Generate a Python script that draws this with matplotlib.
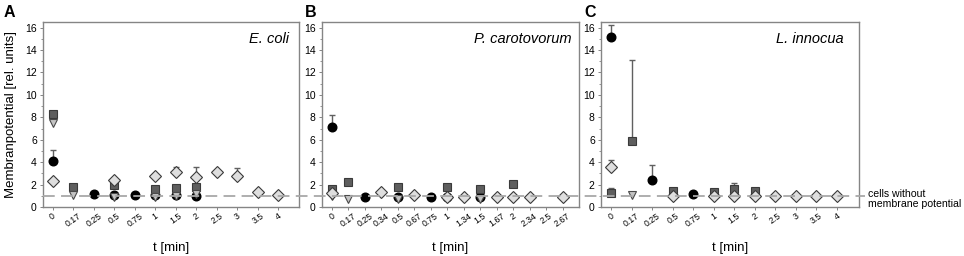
import numpy as np
import matplotlib.pyplot as plt
from matplotlib.lines import Line2D
from matplotlib.ticker import MultipleLocator
from matplotlib.transforms import blended_transform_factory

plt.rcParams['font.family'] = ['Liberation Sans', 'DejaVu Sans']

nan = np.nan

# ---- data ----
cats_a = ['0', '0.17', '0.25', '0.5', '0.75', '1', '1.5', '2', '2.5', '3', '3.5', '4']
circ_a = [4.1, nan, 1.2, 1.1, 1.1, 1.1, 1.05, 1.0, nan, nan, nan, nan]
circ_a_err = [0.95, 0, 0, 0, 0, 0, 0, 0, 0, 0, 0, 0]
sq_a = [8.3, 1.8, nan, 2.0, nan, 1.6, 1.7, 1.75, nan, nan, nan, nan]
sq_a_err = [0] * 12
tri_a = [7.5, 1.05, nan, 0.9, nan, 0.9, 1.0, 1.2, nan, nan, nan, nan]
dia_a = [2.3, nan, nan, 2.4, nan, 2.8, 3.1, 2.7, 3.1, 2.8, 1.3, 1.1]
dia_a_err = [0, 0, 0, 0, 0, 0, 0.5, 0.9, 0, 0.7, 0, 0]

cats_b = ['0', '0.17', '0.25', '0.34', '0.5', '0.67', '0.75', '1', '1.34',
          '1.5', '1.67', '2', '2.34', '2.5', '2.67']
circ_b = [7.1, nan, 0.9, nan, 0.9, nan, 0.9, 0.9, nan, 0.9, nan, nan, nan, nan, nan]
circ_b_err = [1.15, 0, 0, 0, 0, 0, 0, 0, 0, 0, 0, 0, 0, 0, 0]
sq_b = [1.6, 2.2, nan, nan, 1.8, nan, nan, 1.8, nan, 1.6, nan, 2.05, nan, nan, nan]
sq_b_err = [0] * 15
tri_b = [1.0, 0.75, nan, nan, 0.75, nan, nan, nan, nan, 0.75, nan, nan, nan, nan, nan]
dia_b = [1.25, nan, nan, 1.3, nan, 1.1, nan, 0.85, 0.85, nan, 0.85, 0.85, 0.85, nan, 0.85]
dia_b_err = [0] * 15

cats_c = ['0', '0.17', '0.25', '0.5', '0.75', '1', '1.5', '2', '2.5', '3', '3.5', '4']
circ_c = [15.2, nan, 2.4, nan, 1.2, nan, nan, nan, nan, nan, nan, nan]
circ_c_err = [1.0, 0, 1.35, 0, 0, 0, 0, 0, 0, 0, 0, 0]
sq_c = [1.25, 5.85, nan, 1.4, nan, 1.35, 1.6, 1.4, nan, nan, nan, nan]
sq_c_err = [0.45, 7.25, 0, 0, 0, 0, 0.5, 0, 0, 0, 0, 0]
tri_c = [nan, 1.05, nan, nan, nan, nan, nan, nan, nan, nan, nan, nan]
dia_c = [3.55, nan, nan, 0.95, nan, 0.95, 0.95, 0.95, 1.0, 1.0, 1.0, 1.0]
dia_c_err = [0.65, 0, 0, 0, 0, 0, 0, 0, 0, 0, 0, 0]

species = ['E. coli', 'P. carotovorum', 'L. innocua']
letters = ['A', 'B', 'C']
no_potential = 1.0

frame_col = '#858585'
err_col = '#606060'


def draw(ax, cats, circ, circ_err, sq, sq_err, tri, dia, dia_err, xlim):
    x = np.arange(len(cats))
    # error bars (upper only)
    for y, e in [(circ, circ_err), (sq, sq_err), (dia, dia_err)]:
        y = np.array(y, float)
        e = np.array(e, float)
        m = e > 0
        if m.any():
            ax.errorbar(x[m], y[m], yerr=[np.zeros(m.sum()), e[m]], fmt='none',
                        ecolor=err_col, elinewidth=1.0, capsize=2.2, capthick=1.0,
                        zorder=3)
    ax.plot(x, circ, 'o', ms=6.2, mfc='black', mec='black', zorder=4)
    ax.plot(x, sq, 's', ms=5.4, mfc='#5e5e5e', mec='#3a3a3a', mew=0.8, zorder=5)
    ax.plot(x, tri, 'v', ms=6.4, mfc='#c4c4c4', mec='#4a4a4a', mew=0.8, zorder=6)
    ax.plot(x, dia, 'D', ms=5.8, mfc='#dedede', mec='#3a3a3a', mew=0.8, zorder=7)

    ax.set_xlim(*xlim)
    ax.set_ylim(0, 16.5)
    ax.set_xticks(x)
    ax.set_xticklabels(cats, rotation=35, ha='center', fontsize=6.3)
    ax.yaxis.set_major_locator(MultipleLocator(2))
    ax.yaxis.set_minor_locator(MultipleLocator(1))
    ax.tick_params(axis='y', which='major', labelsize=7.5, length=2.5,
                   width=0.7, color=frame_col, pad=2)
    ax.tick_params(axis='y', which='minor', length=1.5, width=0.6, color=frame_col)
    ax.tick_params(axis='x', length=2.2, width=0.7, color=frame_col, pad=1)
    for s in ax.spines.values():
        s.set_color(frame_col)
        s.set_linewidth(1.0)
    ax.set_xlabel('t [min]', fontsize=9.5)
    ax.xaxis.set_label_coords(0.5, -0.19)


fig = plt.figure(figsize=(9.64, 2.56), dpi=100)
ax_a = fig.add_axes([43 / 964, 1 - 207 / 256, 256 / 964, 185 / 256])
ax_b = fig.add_axes([322 / 964, 1 - 207 / 256, 257 / 964, 185 / 256])
ax_c = fig.add_axes([601 / 964, 1 - 207 / 256, 258 / 964, 185 / 256])

draw(ax_a, cats_a, circ_a, circ_a_err, sq_a, sq_a_err, tri_a, dia_a, dia_a_err, (-0.47, 12.0))
draw(ax_b, cats_b, circ_b, circ_b_err, sq_b, sq_b_err, tri_b, dia_b, dia_b_err, (-0.59, 15.0))
draw(ax_c, cats_c, circ_c, circ_c_err, sq_c, sq_c_err, tri_c, dia_c, dia_c_err, (-0.49, 12.07))

ax_a.set_ylabel('Membranpotential [rel. units]', fontsize=9.5)
ax_a.yaxis.set_label_coords(-0.1, 0.5)

sp_x = [0.96, 0.97, 0.94]
for ax, name, lt, sx in zip([ax_a, ax_b, ax_c], species, letters, sp_x):
    ax.text(sx, 0.91, name, transform=ax.transAxes, ha='right', va='center',
            fontsize=10.5, style='italic')
    ax.text(-0.155 if lt == 'A' else -0.065, 1.05, lt, transform=ax.transAxes,
            ha='left', va='center', fontsize=11.5, fontweight='bold')

# dashed reference line spanning all panels
tr = blended_transform_factory(fig.transFigure, ax_a.transData)
fig.add_artist(Line2D([43 / 964, 865 / 964], [no_potential, no_potential],
                      transform=tr, color='#a8a8a8', lw=1.3,
                      dashes=(6.5, 3.5), zorder=2))
ax_c.text(1.033, 0.75, 'cells without\nmembrane potential',
          transform=blended_transform_factory(ax_c.transAxes, ax_c.transData),
          ha='left', va='center', fontsize=7.6, linespacing=1.0)

fig.savefig('out.png', dpi=100)
